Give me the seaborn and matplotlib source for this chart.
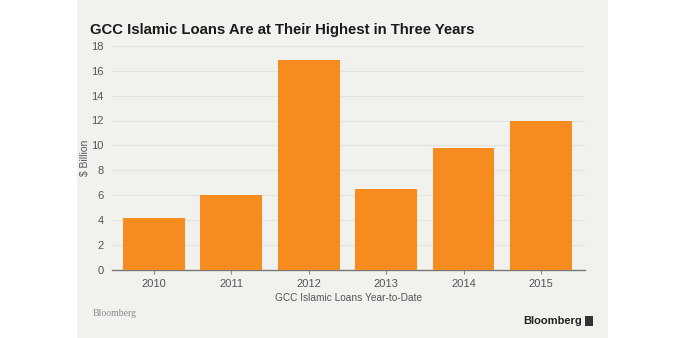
import matplotlib
matplotlib.use("Agg")
import matplotlib.pyplot as plt
import seaborn as sns
import pandas as pd

years = ["2010", "2011", "2012", "2013", "2014", "2015"]
loans = [4.15, 6.0, 16.9, 6.5, 9.8, 12.0]
yticks = [0, 2, 4, 6, 8, 10, 12, 14, 16, 18]

sns.set_theme(style="white")
plt.rcParams['font.family'] = ['Liberation Sans', 'DejaVu Sans']

bg = "#F1F1ED"
fig = plt.figure(figsize=(6.92, 3.38), dpi=100)
fig.patch.set_facecolor("white")
# panel background
fig.patches.append(matplotlib.patches.Rectangle((77/692, 0), (608-77)/692, 1,
                   transform=fig.transFigure, facecolor=bg, edgecolor="none", zorder=-10))

ax = fig.add_axes([112/692, 1 - 269.5/338, (585-112)/692, (269.5-46)/338])
ax.set_facecolor(bg)

df = pd.DataFrame({"year": years, "loans": loans})
sns.barplot(data=df, x="year", y="loans", color="#F68B1F", saturation=1, width=0.8,
            linewidth=0, edgecolor="none", ax=ax, zorder=3)

ax.set_ylim(0, 18)
ax.set_xlim(-0.543, 5.57)
ax.set_yticks(yticks)
ax.set_yticklabels([str(t) for t in yticks], fontsize=8, color="#555555")
ax.tick_params(axis="x", labelsize=8, labelcolor="#555555", length=3, color="#888888", bottom=True, width=0.8)
ax.tick_params(axis="y", length=0, pad=6)
ax.yaxis.grid(True, color="#E2E2DE", linewidth=0.8, zorder=0)
ax.set_axisbelow(True)
for s in ["top", "right", "left"]:
    ax.spines[s].set_visible(False)
ax.spines["bottom"].set_color("#777777")
ax.spines["bottom"].set_linewidth(1.0)

ax.set_xlabel("GCC Islamic Loans Year-to-Date", fontsize=7.3, color="#555555", labelpad=3)
ax.set_ylabel("$ Billion", fontsize=7.5, color="#555555", labelpad=1)

fig.text(90/692, 1 - 30/338, "GCC Islamic Loans Are at Their Highest in Three Years",
         fontsize=10.7, fontweight="bold", color="#1a1a1a", va="center", ha="left")
fig.text(93/692, 1 - 313/338, "Bloomberg", fontsize=7, color="#888888",
         family=["Liberation Serif", "DejaVu Serif"], va="center", ha="left")
fig.text(582/692, 1 - 321/338, "Bloomberg", fontsize=8, fontweight="bold", color="#222222",
         va="center", ha="right")
fig.patches.append(matplotlib.patches.Rectangle((585/692, 1 - 326/338), 8/692, 10/338,
                   transform=fig.transFigure, facecolor="#333333", edgecolor="none"))

fig.savefig("out.png", dpi=100, facecolor="white")
